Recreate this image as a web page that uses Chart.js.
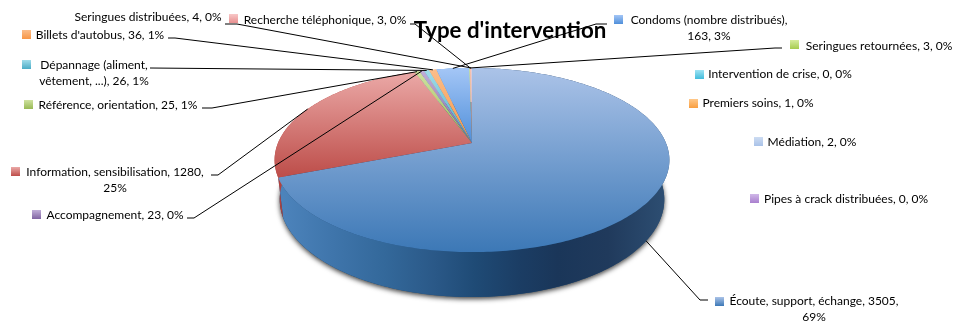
<!DOCTYPE html>
<html>
<head>
<meta charset="utf-8">
<title>Type d'intervention</title>
<script src="https://cdn.jsdelivr.net/npm/chart.js@4/dist/chart.umd.min.js"></script>
<style>
  body { margin: 0; background: #fff; }
  canvas { display: block; }
</style>
</head>
<body>
<canvas id="pieChart" width="954" height="322"></canvas>
<script>
// Data, slices in clockwise order from 12 o'clock
const categories = ['Écoute, support, échange', 'Information, sensibilisation', 'Référence, orientation',
    'Accompagnement', 'Dépannage (aliment, vêtement, ...)', "Billets d'autobus", 'Condoms (nombre distribués)',
    'Seringues retournées', 'Recherche téléphonique', 'Pipes à crack distribuées', 'Intervention de crise',
    'Premiers soins', 'Seringues distribuées', 'Médiation'];
const values = [3505, 1280, 25, 23, 26, 36, 163, 3, 3, 0, 0, 1, 4, 2];
const percents = [69, 25, 1, 0, 1, 1, 3, 0, 0, 0, 0, 0, 0, 0];
const chartTitle = "Type d'intervention";

// Slice colours: top and bottom of the gradient
const lightColors = ['#abc3e8', '#eba9a7', '#cfe2a0', '#c0aed8', '#a0dcea', '#fbbd8a', '#a4c6f6', '#d6ec9c', '#f8c8c8', '#d0b8e8', '#a0e4f4', '#ffc88a', '#f8c8c8', '#cddcf2'];
const darkColors = ['#3c78b6', '#bd4d49', '#98b954', '#8064a2', '#4bacc6', '#f79646', '#4f8fda', '#a6cc4e', '#e88f8f', '#a97fce', '#41bcdc', '#f99f40', '#e88f8f', '#a9c2e8'];

// Label placement: text centre, first baseline middle, marker corner, line break, leader start
const labelLayout = [
    { cx: 814, y: 301, mx: 715, my: 297, wrap: 'échange, 3505, ', lead: [708, 300, 700, 300], front: true },
    { cx: 115, y: 172, mx: 11, my: 167, wrap: 'sensibilisation, 1280, ', lead: [211, 175, 218, 175] },
    { cx: 118, y: 105, mx: 24, my: 100, lead: [202, 108, 212, 108] },
    { cx: 115, y: 215, mx: 32, my: 210, lead: [187, 218, 194, 218] },
    { cx: 94, y: 65, mx: 22, my: 60, wrap: '(aliment, ', lead: [150, 68, 150, 68] },
    { cx: 100, y: 35, mx: 22, my: 30, lead: [168, 38, 175, 38] },
    { cx: 709, y: 20, mx: 614, my: 15, wrap: 'distribués), ', lead: [607, 24, 596, 24] },
    { cx: 879, y: 46, mx: 790, my: 40, lead: [782, 48, 775, 48] },
    { cx: 325, y: 20, mx: 229, my: 14, lead: [410, 24, 415, 24] },
    { cx: 846, y: 199, mx: 750, my: 194 },
    { cx: 780, y: 74, mx: 695, my: 70 },
    { cx: 758, y: 103, mx: 689, my: 99 },
    { cx: 148, y: 17, lead: [225, 24, 237, 24] },
    { cx: 812, y: 142, mx: 754, my: 137 }
];

// Perspective of the disc: where the pie centre lands and how the circle is squashed
const apexX = 472, apexY = 143;
const radiusX = 194, radiusY = 88.9, tilt = -0.185;

function topRim(angle) {
    var u = Math.cos(angle), v = Math.sin(angle);
    var d = 1 + tilt * v;
    return { x: apexX + radiusX * u / d, y: apexY + radiusY * v / d };
}

function lowerRim(angle) {
    var p = topRim(angle);
    return { x: apexX + 0.974 * (p.x - apexX), y: apexY + 1.06 * (p.y - apexY) + 38.4 };
}

function traceRim(ctx, rim, from, to) {
    var steps = Math.max(2, Math.ceil(Math.abs(to - from) * 60));
    for (var s = 0; s <= steps; s++) {
        var p = rim(from + (to - from) * s / steps);
        ctx.lineTo(p.x, p.y);
    }
}

function wallFill(ctx, i) {
    if (i === 1) return '#b0423e';
    if (i !== 0) return darkColors[i];
    var g = ctx.createLinearGradient(283, 0, 665, 0);
    g.addColorStop(0, '#4c83bb');
    g.addColorStop(0.13, '#3f75ab');
    g.addColorStop(0.27, '#33689a');
    g.addColorStop(0.4, '#2a5887');
    g.addColorStop(0.5, '#1f4b76');
    g.addColorStop(0.62, '#1b3d64');
    g.addColorStop(0.72, '#1a3659');
    g.addColorStop(0.85, '#203a5c');
    g.addColorStop(1, '#2d4e72');
    return g;
}

const pie3dPlugin = {
    id: 'pie3d',
    beforeDatasetDraw: function (chart, args) {
        var ctx = chart.ctx;
        var arcs = args.meta.data;
        ctx.save();

        // soft shadow under the disc
        ctx.save();
        ctx.shadowColor = 'rgba(0,0,0,0.75)';
        ctx.shadowBlur = 5;
        ctx.shadowOffsetY = 2;
        ctx.fillStyle = '#1f4b76';
        ctx.beginPath();
        traceRim(ctx, lowerRim, 0, Math.PI * 2);
        ctx.closePath();
        ctx.fill();
        ctx.restore();

        // side wall
        arcs.forEach(function (arc, i) {
            if (!values[i]) return;
            ctx.fillStyle = wallFill(ctx, i);
            ctx.beginPath();
            traceRim(ctx, topRim, arc.startAngle, arc.endAngle);
            traceRim(ctx, lowerRim, arc.endAngle, arc.startAngle);
            ctx.closePath();
            ctx.fill();
        });

        // top face, each slice has its gradient over its own height
        arcs.forEach(function (arc, i) {
            if (!values[i]) return;
            var minY = apexY, maxY = apexY;
            for (var s = 0; s <= 40; s++) {
                var y = topRim(arc.startAngle + (arc.endAngle - arc.startAngle) * s / 40).y;
                minY = Math.min(minY, y);
                maxY = Math.max(maxY, y);
            }
            var g = ctx.createLinearGradient(0, minY, 0, maxY);
            g.addColorStop(0, lightColors[i]);
            g.addColorStop(1, darkColors[i]);
            ctx.fillStyle = g;
            ctx.beginPath();
            ctx.moveTo(apexX, apexY);
            traceRim(ctx, topRim, arc.startAngle, arc.endAngle);
            ctx.closePath();
            ctx.fill();
        });
        ctx.restore();
        return false;
    },
    afterDatasetsDraw: function (chart) {
        var ctx = chart.ctx;
        var arcs = chart.getDatasetMeta(0).data;
        ctx.save();

        // leader lines
        ctx.strokeStyle = '#000';
        ctx.lineWidth = 1;
        labelLayout.forEach(function (box, i) {
            if (!box.lead) return;
            var mid = (arcs[i].startAngle + arcs[i].endAngle) / 2;
            var end = box.front ? lowerRim(mid) : topRim(mid);
            ctx.beginPath();
            ctx.moveTo(box.lead[0], box.lead[1]);
            ctx.lineTo(box.lead[2], box.lead[3]);
            ctx.lineTo(end.x, end.y);
            ctx.stroke();
        });

        // markers and text
        ctx.font = '12px Lato';
        ctx.textAlign = 'center';
        ctx.textBaseline = 'middle';
        labelLayout.forEach(function (box, i) {
            if (box.mx !== undefined) {
                var g = ctx.createLinearGradient(0, box.my, 0, box.my + 9);
                g.addColorStop(0, lightColors[i]);
                g.addColorStop(1, darkColors[i]);
                ctx.fillStyle = g;
                ctx.fillRect(box.mx, box.my, 9, 9);
            }
            var text = categories[i] + ', ' + values[i] + ', ' + percents[i] + '%';
            var lines = [text];
            if (box.wrap) {
                var cut = text.indexOf(box.wrap) + box.wrap.length;
                lines = [text.slice(0, cut).trim(), text.slice(cut)];
            }
            ctx.fillStyle = '#000';
            lines.forEach(function (line, n) {
                ctx.fillText(line, box.cx, box.y + n * 16);
            });
        });
        ctx.restore();
    }
};

new Chart(document.getElementById('pieChart').getContext('2d'), {
    type: 'pie',
    data: {
        labels: categories,
        datasets: [{ data: values, backgroundColor: darkColors, borderWidth: 0 }]
    },
    options: {
        responsive: false,
        animation: false,
        layout: { padding: { left: 66 } },
        plugins: {
            legend: { display: false },
            tooltip: { enabled: false },
            title: {
                display: true,
                text: chartTitle,
                fullSize: false,
                color: '#000',
                font: { family: 'Lato', size: 22.3, weight: 'bold' },
                padding: { top: 17, bottom: 0 }
            }
        }
    },
    plugins: [pie3dPlugin]
});
</script>
</body>
</html>
